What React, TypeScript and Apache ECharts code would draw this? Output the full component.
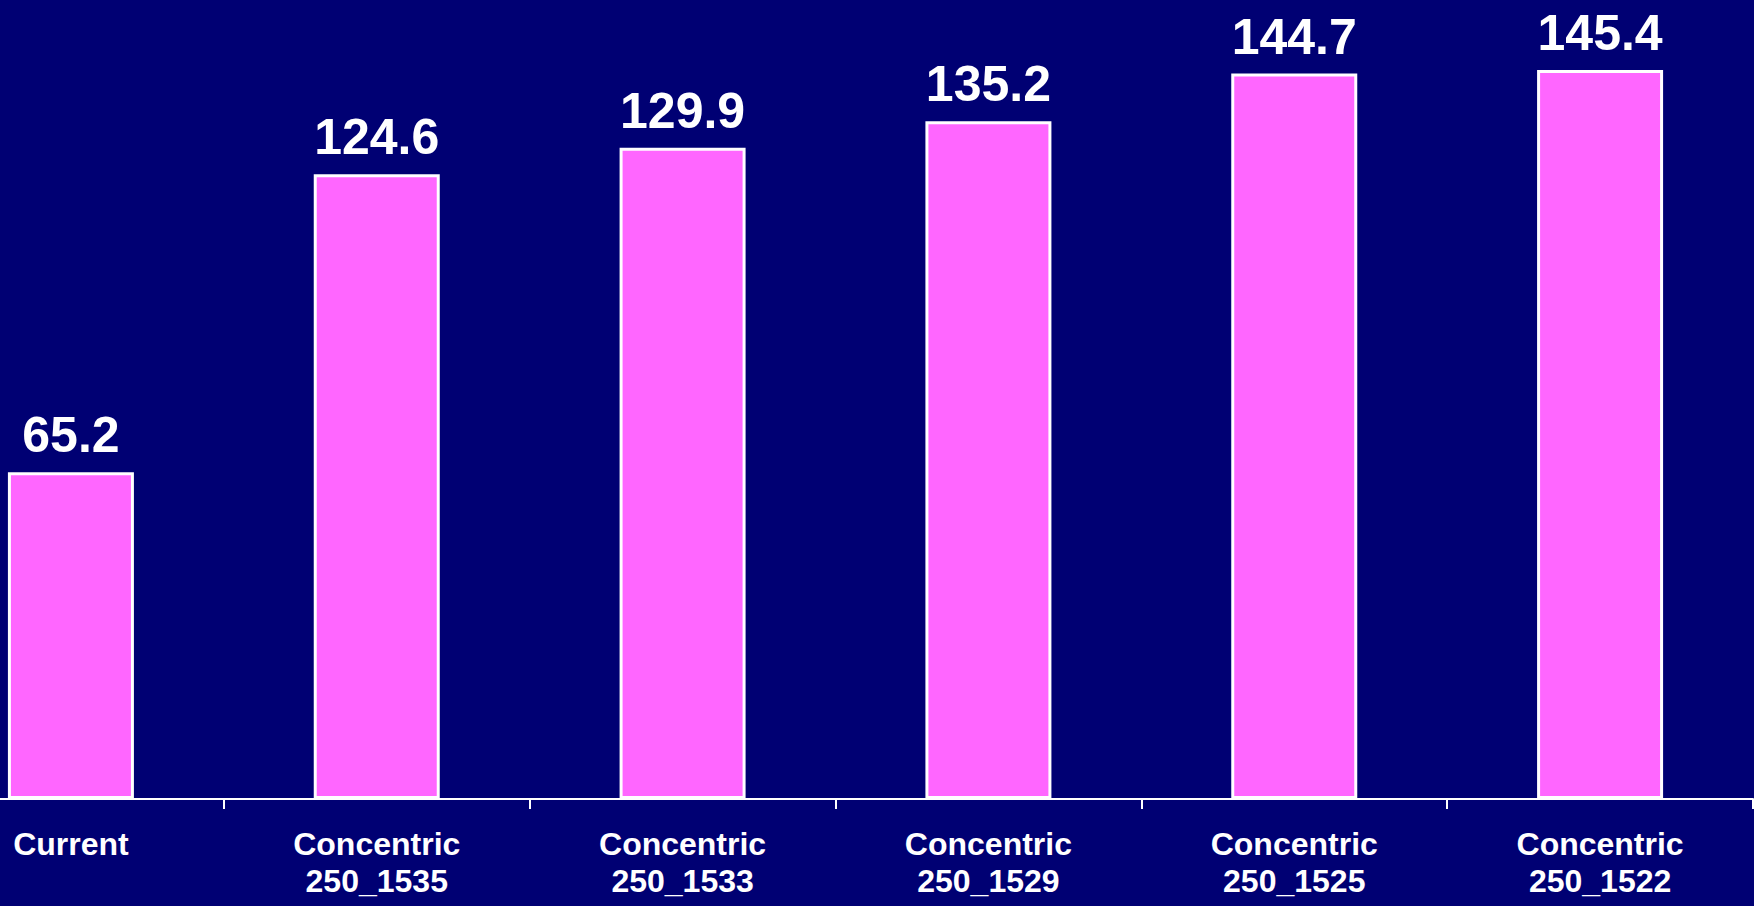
import React, { useEffect, useRef } from "react";
import * as echarts from "echarts";

const categories = [
  "Current",
  "Concentric\n250_1535",
  "Concentric\n250_1533",
  "Concentric\n250_1529",
  "Concentric\n250_1525",
  "Concentric\n250_1522",
];
const values = [65.2, 124.6, 129.9, 135.2, 144.7, 145.4];

export default function App() {
  const ref = useRef<HTMLDivElement>(null);
  useEffect(() => {
    if (!ref.current) return;
    const chart = echarts.init(ref.current, undefined, { renderer: "svg" });
    chart.setOption({
      animation: false,
      backgroundColor: "#000073",
      grid: { left: 0, right: 1, top: 47, bottom: 107, containLabel: false },
      xAxis: {
        type: "category",
        data: categories,
        boundaryGap: true,
        axisLine: { show: true, lineStyle: { color: "#ffffff", width: 2 } },
        axisTick: { show: true, length: 10, lineStyle: { color: "#ffffff", width: 2 } },
        axisLabel: {
          color: "#ffffff",
          fontFamily: "Liberation Sans, Arial, sans-serif",
          fontWeight: "bold",
          fontSize: 32,
          lineHeight: 37,
          margin: 26,
          interval: 0,
        },
      },
      yAxis: {
        type: "value",
        min: 0,
        max: 150,
        show: false,
        splitLine: { show: false },
      },
      series: [
        {
          type: "bar",
          data: values,
          barWidth: 126,
          itemStyle: { color: "#ff66ff", borderColor: "#ffffff", borderWidth: 3 },
          label: {
            show: true,
            position: "top",
            distance: 12,
            color: "#ffffff",
            fontFamily: "Liberation Sans, Arial, sans-serif",
            fontWeight: "bold",
            fontSize: 50,
            formatter: (p: any) => p.value.toFixed(1),
          },
        },
      ],
    });
    return () => chart.dispose();
  }, []);
  return (
    <div style={{ position: "fixed", left: 0, top: 0, width: 1754, height: 906, overflow: "hidden", background: "#000073" }}>
      <div
        ref={ref}
        style={{ position: "absolute", left: -82, top: 0, width: 1836, height: 906 }}
      />
    </div>
  );
}
